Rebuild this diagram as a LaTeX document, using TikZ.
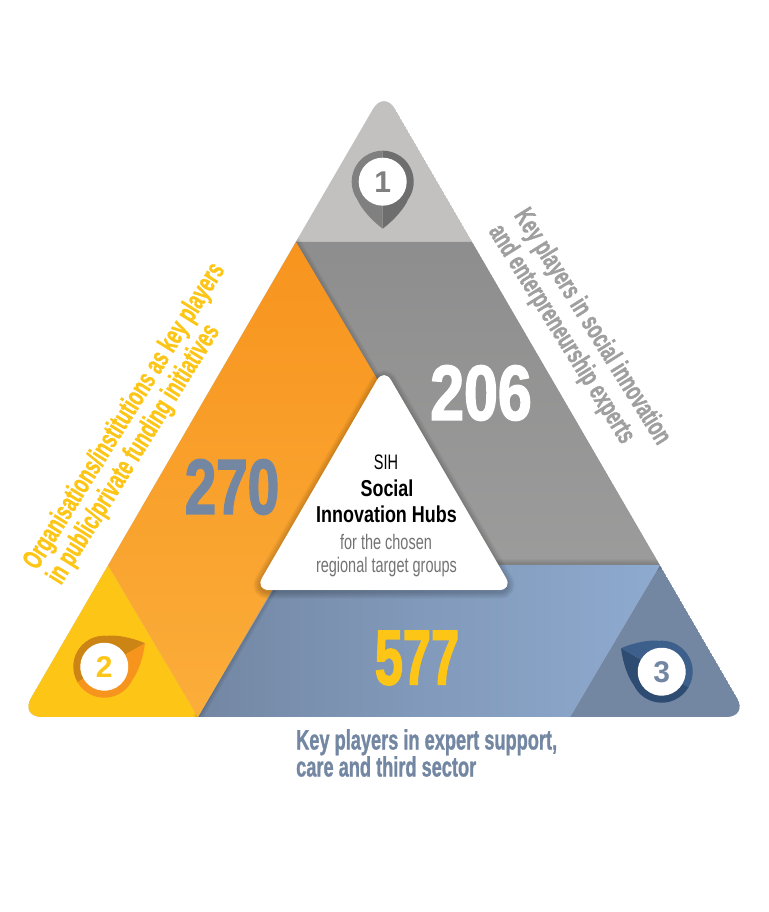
\documentclass[tikz,border=0pt]{standalone}
\usepackage{fontspec}
\setmainfont{Liberation Sans}
\newfontfamily\numfont[FakeStretch=0.78,FakeBold=2]{Liberation Sans}
\newfontfamily\capfont[FakeStretch=0.65,FakeBold=1]{Liberation Sans}
\newfontfamily\hubfont[FakeStretch=0.78]{Liberation Sans}
\newfontfamily\subfont[FakeStretch=0.69]{Liberation Sans}
\usetikzlibrary{calc}
\definecolor{topgray}{HTML}{C2C1BF}
\definecolor{bandgray}{HTML}{959595}
\definecolor{sunyellow}{HTML}{FDC516}
\definecolor{darkorange}{HTML}{F7941E}
\definecolor{lightorange}{HTML}{FBAD3A}
\definecolor{burnt}{HTML}{CC8415}
\definecolor{slate}{HTML}{7387A3}
\definecolor{skyblue}{HTML}{8EAACF}
\definecolor{navy}{HTML}{3D5F8B}
\definecolor{deepnavy}{HTML}{2E4B72}
\definecolor{labelgray}{HTML}{9F9F9F}
\tikzset{
  numlabel/.style={font=\numfont\bfseries\fontsize{78}{78}\selectfont, transform shape},
  sidelabel/.style={font=\capfont\bfseries\fontsize{28}{28}\selectfont},
  hubhead/.style={font=\hubfont\bfseries\fontsize{23}{26}\selectfont, inner sep=0pt},
  hubtext/.style={font=\subfont\fontsize{21}{24}\selectfont, inner sep=0pt},
  marknum/.style={font=\bfseries\fontsize{30}{30}\selectfont},
  softedge/.style={draw=black, opacity=0.03, line cap=round},
  pics/marker/.style n args={2}{code={
    \fill[#1] (47,0) .. controls (38,12) and (26,22) .. (55:31) arc (55:180:31) -- cycle;
    \fill[#2] (47,0) .. controls (38,-12) and (26,-22) .. (-55:31) arc (-55:-180:31) -- cycle;
    \fill[white] (0,0) circle (24);
  }}
}
\begin{document}
\begin{tikzpicture}[x=1pt, y=1pt]
  \useasboundingbox (0,0) rectangle (768,912);
  \coordinate (apex) at (384,822);
  \coordinate (lft)  at (20,195);
  \coordinate (rgt)  at (748,195);
  \coordinate (bl)   at (296,670);
  \coordinate (br)   at (472,670);
  \coordinate (ml)   at (108,347);
  \coordinate (mr)   at (660,347);
  \coordinate (sl)   at (198,195);
  \coordinate (sr)   at (570,195);
  \coordinate (oc)   at (386,518);
  \coordinate (gc)   at (484,347);
  \coordinate (bc)   at (288,347);
  \begin{scope}
    \clip[rounded corners=22pt] (apex) -- (lft) -- (rgt) -- cycle;
    \fill[topgray] (apex) -- (lft) -- (rgt) -- cycle;
    \fill[sunyellow] (ml) -- (lft) -- (sl) -- cycle;
    \fill[slate] (mr) -- (sr) -- (rgt) -- cycle;
    \shade[top color=bandgray!95!black, bottom color=bandgray!85!topgray]
      (bl) -- (br) -- (mr) -- (gc) -- cycle;
    \foreach \w in {2,4,...,12}
      \draw[softedge, line width=\w pt] (gc) -- (mr);
    \shade[left color=slate, right color=skyblue, middle color=slate!45!skyblue]
      (bc) -- (sl) -- (sr) -- (mr) -- cycle;
    \foreach \w in {2,4,...,10} {
      \draw[softedge, line width=\w pt] (bl) -- (oc);
      \draw[softedge, line width=\w pt] (oc) -- (sl);
    }
    \shade[top color=darkorange, bottom color=lightorange]
      (bl) -- (ml) -- (sl) -- (oc) -- cycle;
  \end{scope}
  \foreach \w in {2,4,...,14}
    \draw[softedge, line width=\w pt, rounded corners=14pt, yshift=-2pt]
      (384,544) -- (255,322) -- (513,322) -- cycle;
  \fill[white, rounded corners=14pt] (384,544) -- (255,322) -- (513,322) -- cycle;
  % markers
  \pic[rotate=-90] at (382.7,730.3) {marker={black!57}{black!50}};
  \pic[rotate=30]  at (104.3,245.3) {marker={burnt}{darkorange}};
  \pic[rotate=150] at (661.7,240.3) {marker={deepnavy}{navy}};
  \node[marknum, text=black!50] (one) at (382.7,730.3) {1};
  \node[marknum, text=sunyellow] (two) at (104.3,245.3) {2};
  \node[marknum, text=slate] (three) at (661.7,240.3) {3};
  % numbers
  \node[numlabel, text=white] (gray) at (481,519) {206};
  \node[numlabel, text=slate, xscale=.93] (orange) at (232,425) {270};
  \node[numlabel, text=sunyellow, xscale=.83] (blue) at (417,254) {577};
  % hub
  \node[hubtext, text=black] (sih) at (386,450) {SIH};
  \node[hubhead] (soc) at (387,424) {Social};
  \node[hubhead] (inn) at (386.5,398) {Innovation Hubs};
  \node[hubtext, text=black!55] (cho) at (386,370) {for the chosen};
  \node[hubtext, text=black!55] (reg) at (386.5,345) {regional target groups};
  % side labels
  \node[sidelabel, text=sunyellow, rotate=58, align=left] (orglabel) at (137,488)
    {Organisations/institutions as key players\\in public/private funding initiatives};
  \node[sidelabel, text=labelgray, rotate=-58, align=left, font=\capfont\bfseries\fontsize{27.5}{30}\selectfont] (keylabel) at (579,577)
    {Key players in social innovation\\and enterpreneurship experts};
  \node[sidelabel, text=slate, align=left, anchor=west, inner sep=0pt, font=\capfont\bfseries\fontsize{28}{27}\selectfont] (supportlabel) at (296,159)
    {Key players in expert support,\\care and third sector};
\end{tikzpicture}
\end{document}
